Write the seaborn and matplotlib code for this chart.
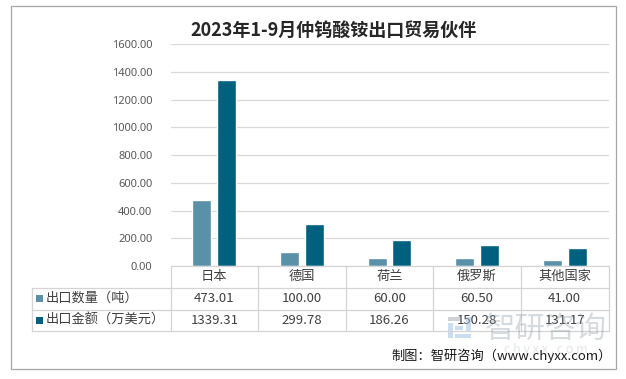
import pandas as pd
import seaborn as sns
import matplotlib.pyplot as plt
import matplotlib.transforms as mtransforms
from matplotlib.lines import Line2D
from matplotlib.patches import Rectangle

# data
countries = ['日本', '德国', '荷兰', '俄罗斯', '其他国家']
qty = [473.01, 100.00, 60.00, 60.50, 41.00]
amount = [1339.31, 299.78, 186.26, 150.28, 131.17]
series = ['出口数量（吨）', '出口金额（万美元）']
colors = ['#5a90a8', '#00617f']

df = pd.DataFrame({'country': countries * 2,
                   'value': qty + amount,
                   'series': [series[0]] * 5 + [series[1]] * 5})

sns.set_style('white')
plt.rcParams['font.family'] = ['Noto Sans CJK SC', 'DejaVu Sans']

W, H = 626, 379
fig = plt.figure(figsize=(W / 100, H / 100), dpi=100)

def fx(x):
    return x / W

def fy(y):
    return 1 - y / H

# plot area
left, right, top, bottom = 170.5, 608.5, 44.3, 266
ax = fig.add_axes([fx(left), fy(bottom), fx(right - left), (bottom - top) / H])

sns.barplot(data=df, x='country', y='value', hue='series', palette=colors,
            width=0.57, gap=0.24, ax=ax, legend=False, saturation=1)

ax.set_ylim(0, 1600)
ax.set_yticks(range(0, 1601, 200))
ax.set_yticklabels([f'{v:.2f}' for v in range(0, 1601, 200)], fontsize=8, color='#595959',
                   family=['Noto Sans', 'DejaVu Sans'])
ax.tick_params(axis='y', length=0, pad=13)
ax.set_xticks([])
ax.set_xlabel('')
ax.set_ylabel('')
ax.set_xlim(-0.5, 4.5)
ax.grid(axis='y', color='#d9d9d9', linewidth=0.9)
ax.set_axisbelow(True)
for s in ax.spines.values():
    s.set_visible(False)

# title
fig.text(fx(334), fy(30), '2023年1-9月仲钨酸铵出口贸易伙伴', ha='center', va='center',
         fontsize=13, fontweight='bold', color='#262626')

# data table under the axis
line_c = '#d4d4d4'
tab_left = 31.5
rows_y = [266, 287.5, 309.5, 331]
for y in rows_y:
    x0 = left if y == rows_y[0] else tab_left
    fig.add_artist(Line2D([fx(x0), fx(right)], [fy(y), fy(y)], color=line_c, lw=0.9))
fig.add_artist(Line2D([fx(tab_left), fx(tab_left)], [fy(rows_y[1]), fy(rows_y[3])], color=line_c, lw=0.9))
col_w = (right - left) / len(countries)
for i in range(len(countries) + 1):
    x = left + i * col_w
    fig.add_artist(Line2D([fx(x), fx(x)], [fy(rows_y[0]), fy(rows_y[3])], color=line_c, lw=0.9))

trans = mtransforms.blended_transform_factory(ax.transData, fig.transFigure)
txt_c = '#404040'
for i, c in enumerate(countries):
    ax.text(i, fy((rows_y[0] + rows_y[1]) / 2), c, transform=trans, ha='center', va='center',
            fontsize=9.5, color=txt_c, clip_on=False)
    ax.text(i, fy((rows_y[1] + rows_y[2]) / 2), f'{qty[i]:.2f}', transform=trans, ha='center',
            va='center', fontsize=9.5, color=txt_c, clip_on=False)
    ax.text(i, fy((rows_y[2] + rows_y[3]) / 2), f'{amount[i]:.2f}', transform=trans, ha='center',
            va='center', fontsize=9.5, color=txt_c, clip_on=False)

for k, name in enumerate(series):
    yc = (rows_y[k + 1] + rows_y[k + 2]) / 2
    fig.add_artist(Rectangle((fx(36), fy(yc + 3.5)), fx(7), 7 / H, color=colors[k], lw=0))
    fig.text(fx(46), fy(yc), name, ha='left', va='center', fontsize=9.5, color=txt_c)

# watermark: simple block logo + text
logo = [(448, 317, 12, 4, '#a8b0b8'), (448, 323, 5, 15, '#9fc3e6'), (455, 326, 8, 4, '#9fc3e6'),
        (466, 317, 5, 15, '#9fc3e6'), (455, 334, 16, 4, '#9fc3e6')]
for x, y, w, h, c in logo:
    fig.add_artist(Rectangle((fx(x), fy(y + h)), fx(w), h / H, color=c, alpha=0.55, lw=0))
fig.text(fx(546), fy(329), '智研咨询', ha='center', va='center', fontsize=22,
         color='#8a9aa8', alpha=0.35)
fig.text(fx(546), fy(350), 'c h y x x . c o m', ha='center', va='center', fontsize=9,
         color='#b0b8c0', alpha=0.35)

# source
fig.text(fx(612), fy(356), '制图：智研咨询（www.chyxx.com）', ha='right', va='center',
         fontsize=9.5, color='#1a1a1a')

# outer frame
fig.add_artist(Rectangle((fx(11), fy(369)), fx(605), 363 / H, fill=False,
                         edgecolor='#a6a6a6', lw=0.9))

fig.savefig('out.png', dpi=100)
